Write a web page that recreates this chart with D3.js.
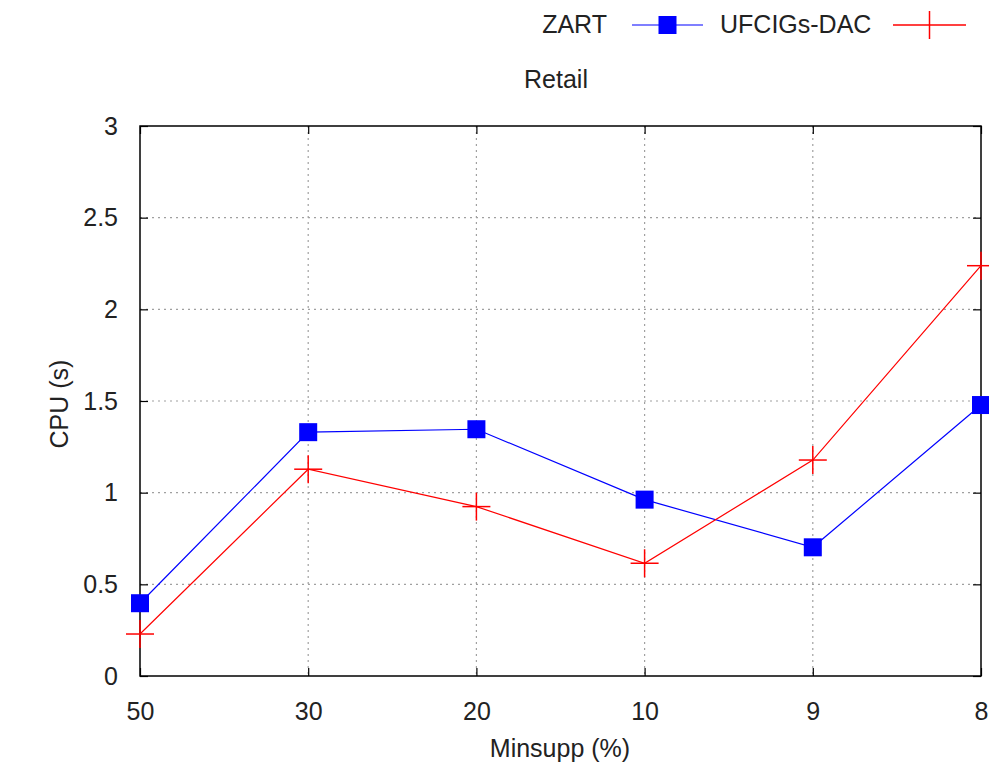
<!DOCTYPE html>
<html><head><meta charset="utf-8">
<script src="https://cdn.jsdelivr.net/npm/d3@7/dist/d3.min.js"></script>
<style>
body{margin:0;background:#fff;}
text{font-family:"Liberation Sans",Arial,sans-serif;fill:#222;}
</style></head><body>
<svg id="c" width="989" height="772"></svg>
<script>
const categories = ["50","30","20","10","9","8"];
const zart = [0.397, 1.33, 1.346, 0.962, 0.702, 1.478];
const ufcigs = [0.229, 1.128, 0.924, 0.615, 1.178, 2.238];
const yTicks = [0, 0.5, 1, 1.5, 2, 2.5, 3];
const seriesNames = ["ZART", "UFCIGs-DAC"];

const svg = d3.select("#c");
const L = 140, R = 981, T = 126, B = 676;
const x = d3.scalePoint().domain(categories).range([L, R]).padding(0);
const y = d3.scaleLinear().domain([0, 3]).range([B, T]);
const fs = 25;

// grid
const g = svg.append("g");
g.selectAll(".gy").data(yTicks.filter(v => v > 0 && v < 3)).enter().append("line")
  .attr("x1", L).attr("x2", R).attr("y1", d => y(d)).attr("y2", d => y(d))
  .attr("stroke", "#a0a0a0").attr("stroke-width", 1.2).attr("stroke-dasharray", "2,4");
g.selectAll(".gx").data(categories.slice(1, -1)).enter().append("line")
  .attr("x1", d => x(d)).attr("x2", d => x(d)).attr("y1", T).attr("y2", B)
  .attr("stroke", "#a0a0a0").attr("stroke-width", 1.2).attr("stroke-dasharray", "2,4");

// axes with inward ticks (mirrored)
const yAxisL = d3.axisLeft(y).tickValues(yTicks).tickSize(-8).tickPadding(22).tickFormat(d3.format("~g"));
const yAxisR = d3.axisRight(y).tickValues(yTicks).tickSize(-8).tickFormat("");
const xAxisB = d3.axisBottom(x).tickSize(-8).tickPadding(26);
const xAxisT = d3.axisTop(x).tickSize(-8).tickFormat("");
function style(sel){
  sel.select(".domain").remove();
  sel.selectAll(".tick line").attr("stroke","#000").attr("stroke-width",1.2);
  sel.selectAll(".tick text").attr("font-size",fs).attr("fill","#222").attr("font-family","Liberation Sans, Arial, sans-serif");
}
svg.append("g").attr("transform",`translate(${L},0)`).call(yAxisL).call(style);
svg.append("g").attr("transform",`translate(${R},0)`).call(yAxisR).call(style);
svg.append("g").attr("transform",`translate(0,${B})`).call(xAxisB).call(style);
svg.append("g").attr("transform",`translate(0,${T})`).call(xAxisT).call(style);

svg.append("rect").attr("x",L).attr("y",T).attr("width",R-L).attr("height",B-T)
  .attr("fill","none").attr("stroke","#000").attr("stroke-width",1.5);

// lines
const line = d3.line().x((d,i)=>x(categories[i])).y(d=>y(d));
svg.append("path").datum(zart).attr("d",line).attr("fill","none").attr("stroke","#0000ff").attr("stroke-width",1.2);
svg.append("path").datum(ufcigs).attr("d",line).attr("fill","none").attr("stroke","#ff0000").attr("stroke-width",1.2);

const sq = 18, cr = 14;
svg.selectAll(".sq").data(zart).enter().append("rect")
  .attr("x",(d,i)=>x(categories[i])-sq/2).attr("y",d=>y(d)-sq/2)
  .attr("width",sq).attr("height",sq).attr("fill","#0000ff");
const crosses = svg.selectAll(".cr").data(ufcigs).enter().append("g")
  .attr("transform",(d,i)=>`translate(${x(categories[i])},${y(d)})`);
crosses.append("line").attr("x1",-cr).attr("x2",cr).attr("y1",0).attr("y2",0).attr("stroke","#ff0000").attr("stroke-width",1.5);
crosses.append("line").attr("x1",0).attr("x2",0).attr("y1",-cr).attr("y2",cr).attr("stroke","#ff0000").attr("stroke-width",1.5);

// axis labels
svg.append("text").attr("x",560).attr("y",757).attr("text-anchor","middle").attr("font-size",fs).text("Minsupp (%)");
svg.append("text").attr("transform","translate(68,404) rotate(-90)").attr("text-anchor","middle").attr("font-size",fs).text("CPU (s)");
svg.append("text").attr("x",556).attr("y",88).attr("text-anchor","middle").attr("font-size",fs).text("Retail");

// legend
const ly = 25;
svg.append("text").attr("x",607).attr("y",ly+8).attr("text-anchor","end").attr("font-size",fs).text(seriesNames[0]);
svg.append("line").attr("x1",632).attr("x2",703).attr("y1",ly).attr("y2",ly).attr("stroke","#0000ff").attr("stroke-width",1.2);
svg.append("rect").attr("x",667.5-sq/2).attr("y",ly-sq/2).attr("width",sq).attr("height",sq).attr("fill","#0000ff");
svg.append("text").attr("x",720).attr("y",ly+8).attr("text-anchor","start").attr("font-size",fs).text(seriesNames[1]);
svg.append("line").attr("x1",893).attr("x2",966).attr("y1",ly).attr("y2",ly).attr("stroke","#ff0000").attr("stroke-width",1.5);
svg.append("line").attr("x1",929.5).attr("x2",929.5).attr("y1",ly-cr).attr("y2",ly+cr).attr("stroke","#ff0000").attr("stroke-width",1.5);
</script></body></html>
